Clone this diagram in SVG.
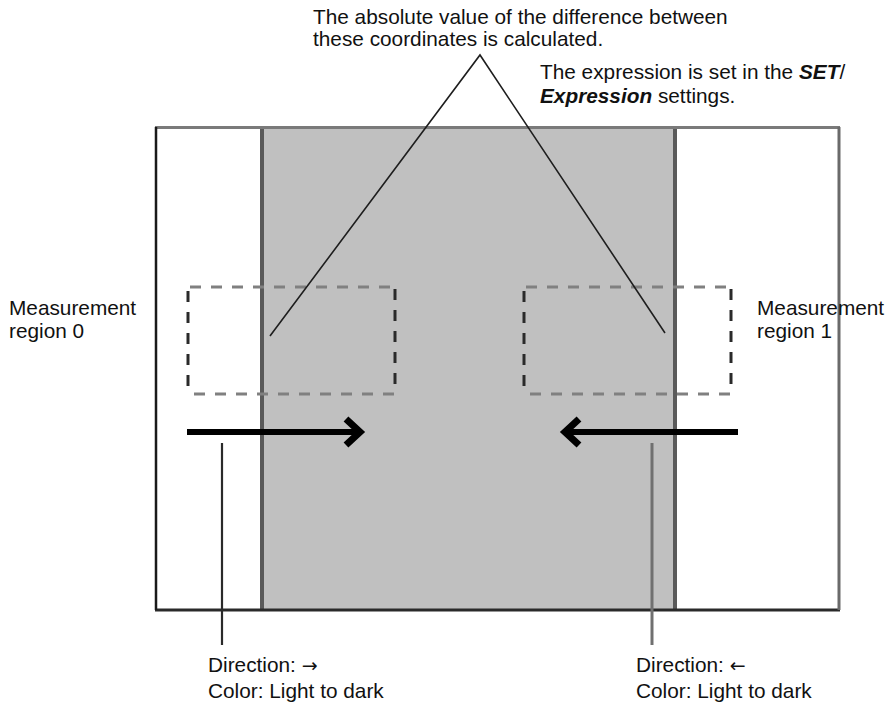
<svg xmlns="http://www.w3.org/2000/svg" width="892" height="708" viewBox="0 0 892 708">
  <defs>
    <style>
      text { font-family: "Liberation Sans", Arial, Helvetica, sans-serif; font-size: 20.8px; fill: #111; }
      .b { font-weight: bold; font-style: italic; }
      .sym { font-family: "DejaVu Sans", sans-serif; font-size: 19px; }
      .dash-h { fill: none; stroke: #808080; stroke-width: 3; stroke-dasharray: 11 10; }
      .dash-v { fill: none; stroke: #2a2a2a; stroke-width: 3; stroke-dasharray: 11 10; }
      .leader { fill: none; stroke: #1e1e1e; stroke-width: 1.6; }
      .shaft { fill: none; stroke: #000; stroke-width: 6; }
      .head { fill: none; stroke: #000; stroke-width: 7; stroke-linejoin: miter; }
    </style>
  </defs>
  <rect width="892" height="708" fill="#ffffff"/>

  <g id="frame">
    <rect x="155" y="127" width="685" height="483" fill="#ffffff"/>
    <rect x="262" y="127" width="414" height="483" fill="#c0c0c0"/>
    <line x1="262" y1="127" x2="262" y2="610" stroke="#5a5a5a" stroke-width="4"/>
    <line x1="675" y1="127" x2="675" y2="610" stroke="#5a5a5a" stroke-width="4"/>
    <line x1="155" y1="127.5" x2="840" y2="127.5" stroke="#7a7a7a" stroke-width="3"/>
    <line x1="155" y1="610" x2="840" y2="610" stroke="#2a2a2a" stroke-width="3"/>
    <line x1="156" y1="127" x2="156" y2="610" stroke="#1a1a1a" stroke-width="2.5"/>
    <line x1="839" y1="127" x2="839" y2="610" stroke="#6a6a6a" stroke-width="3"/>
  </g>

  <g id="region0">
    <line class="dash-h" x1="190" y1="287" x2="395" y2="287"/>
    <line class="dash-h" x1="394" y1="394" x2="188" y2="394"/>
    <line class="dash-v" x1="188" y1="291" x2="188" y2="394"/>
    <line class="dash-v" x1="395" y1="289" x2="395" y2="394"/>
  </g>

  <g id="region1">
    <line class="dash-h" x1="526" y1="287" x2="731" y2="287"/>
    <line class="dash-h" x1="730" y1="394" x2="530" y2="394"/>
    <line class="dash-v" x1="524" y1="291" x2="524" y2="394"/>
    <line class="dash-v" x1="731" y1="289" x2="731" y2="394"/>
  </g>

  <g id="arrow0">
    <line class="shaft" x1="187" y1="432" x2="358" y2="432"/>
    <polyline class="head" points="346,419 360,432 346,445"/>
  </g>

  <g id="arrow1">
    <line class="shaft" x1="738" y1="432" x2="567" y2="432"/>
    <polyline class="head" points="579,419 565,432 579,445"/>
  </g>

  <g id="connectors">
    <polyline class="leader" points="270,336 480,55 665,333"/>
    <line x1="222" y1="443" x2="222" y2="645" stroke="#2a2a2a" stroke-width="2.2"/>
    <line x1="652" y1="443" x2="652" y2="645" stroke="#707070" stroke-width="3"/>
  </g>

  <g id="label-top">
    <text x="313" y="24">The absolute value of the difference between</text>
    <text x="313" y="46">these coordinates is calculated.</text>
  </g>

  <g id="label-expression">
    <text x="540" y="79">The expression is set in the <tspan class="b">SET</tspan>/</text>
    <text x="540" y="103"><tspan class="b">Expression</tspan> settings.</text>
  </g>

  <g id="label-region0">
    <text x="9" y="315">Measurement</text>
    <text x="9" y="338">region 0</text>
  </g>

  <g id="label-region1">
    <text x="757" y="315">Measurement</text>
    <text x="757" y="338">region 1</text>
  </g>

  <g id="label-dir0">
    <text x="208" y="672">Direction: <tspan class="sym">→</tspan></text>
    <text x="208" y="698">Color: Light to dark</text>
  </g>

  <g id="label-dir1">
    <text x="636" y="672">Direction: <tspan class="sym">←</tspan></text>
    <text x="636" y="698">Color: Light to dark</text>
  </g>
</svg>
